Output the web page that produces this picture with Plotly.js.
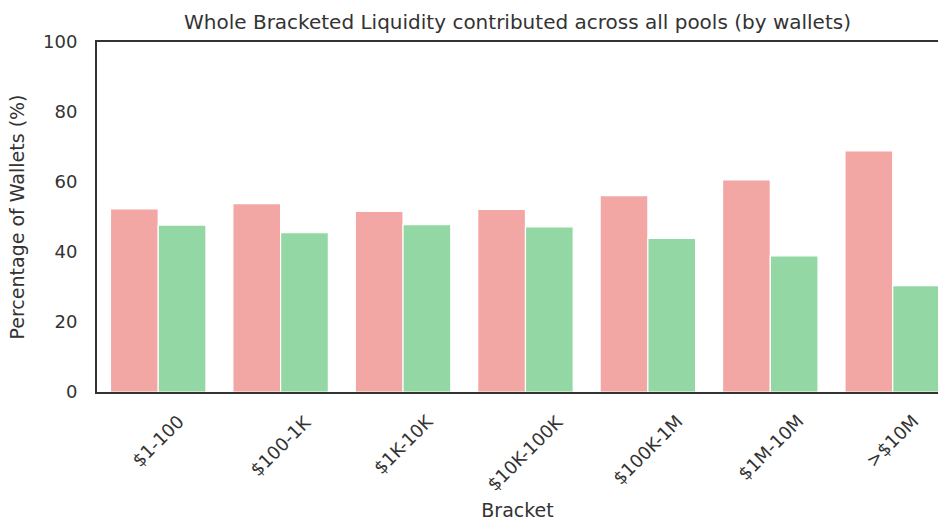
<!DOCTYPE html>
<html>
<head>
<meta charset="utf-8">
<script src="https://cdn.plot.ly/plotly-3.0.1.min.js"></script>
<style>html,body{margin:0;padding:0;background:#fff;}#chart{width:938px;height:523px;}</style>
</head>
<body>
<div id="chart"></div>
<script>
const brackets = ["$1-100", "$100-1K", "$1K-10K", "$10K-100K", "$100K-1M", "$1M-10M", ">$10M"];
const seriesA = [52.3, 53.8, 51.6, 52.2, 56.1, 60.6, 68.9];
const seriesB = [47.7, 45.5, 47.8, 47.2, 43.9, 38.9, 30.4];
const seriesNames = ["Added", "Removed"];
const yTicks = [0, 20, 40, 60, 80, 100];

const font = "DejaVu Sans, Liberation Sans, Arial, sans-serif";
const ink = "#333333";
const traces = [
  {type: "bar", x: brackets, y: seriesA, name: seriesNames[0],
   marker: {color: "#f2a7a5", line: {color: "#ffffff", width: 1.2}}},
  {type: "bar", x: brackets, y: seriesB, name: seriesNames[1],
   marker: {color: "#93d8a4", line: {color: "#ffffff", width: 1.2}}}
];
const tickAnnotations = brackets.map(b => ({
  x: b, xref: "x", y: -0.045, yref: "paper",
  text: b, showarrow: false, textangle: -45,
  xanchor: "center", yanchor: "top",
  font: {family: font, size: 18, color: ink}
}));
const layout = {
  width: 938, height: 523,
  margin: {l: 97, r: 0, t: 42, b: 131},
  paper_bgcolor: "#ffffff", plot_bgcolor: "#ffffff",
  showlegend: false,
  barmode: "group", bargap: 0.22, bargroupgap: 0,
  font: {family: font, color: ink, size: 18},
  title: {text: "Whole Bracketed Liquidity contributed across all pools (by wallets)",
          font: {family: font, size: 20, color: ink},
          x: 0.5, xref: "paper", y: 0.958, yref: "container", yanchor: "middle"},
  annotations: tickAnnotations,
  xaxis: {range: [-0.5, 6.37], showline: true, mirror: true, linecolor: ink, linewidth: 2,
          showgrid: false, ticks: "", showticklabels: false, zeroline: false,
          title: {text: "Bracket", font: {family: font, size: 19, color: ink}, standoff: 111},
          automargin: false, fixedrange: true},
  yaxis: {range: [0, 100], tickvals: yTicks, showline: true, mirror: false,
          linecolor: ink, linewidth: 2, showgrid: false, zeroline: false, ticks: "",
          ticklabelstandoff: 14,
          tickfont: {family: font, size: 18, color: ink},
          title: {text: "Percentage of Wallets (%)", font: {family: font, size: 19, color: ink}, standoff: 13},
          automargin: false, fixedrange: true}
};
Plotly.newPlot("chart", traces, layout, {displayModeBar: false, staticPlot: true});
</script>
</body>
</html>
